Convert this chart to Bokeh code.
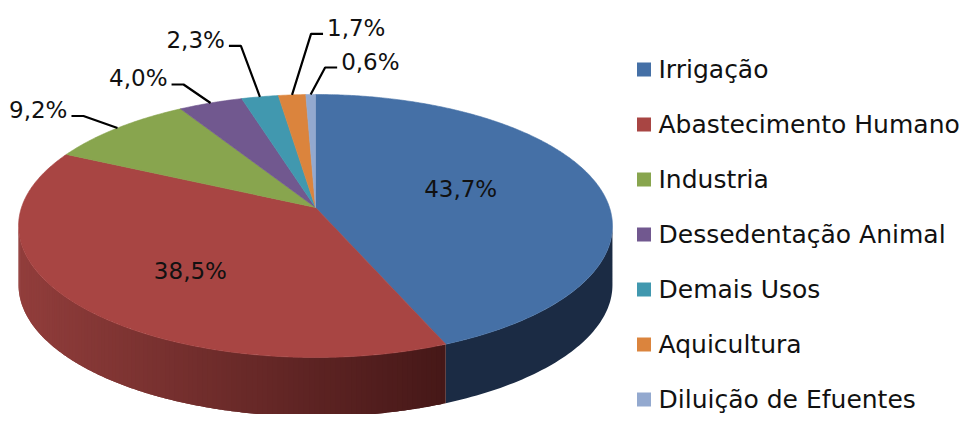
import numpy as np
from bokeh.plotting import figure
from bokeh.models import ColumnDataSource
from bokeh.embed import file_html
from bokeh.resources import INLINE
from bokeh.core.properties import value

# ---------------- data ----------------
categories = ["Irrigação", "Abastecimento Humano", "Industria",
              "Dessedentação Animal", "Demais Usos", "Aquicultura",
              "Diluição de Efuentes"]
shares = [43.7, 38.5, 9.2, 4.0, 2.3, 1.7, 0.6]
labels = ["43,7%", "38,5%", "9,2%", "4,0%", "2,3%", "1,7%", "0,6%"]

# ---------------- styles / layout ----------------
top_colors = ["#4570A6", "#A84543", "#88A54E", "#71588F", "#4198AF", "#DB843D", "#93A9CF"]
blue_side = "#1B2B44"
red_side_light = np.array([146, 62, 60])
red_side_dark = np.array([70, 24, 24])

CX, CY = 315.0, 207.0        # projected centre of the pie (page px)
KX, KY = 294.0, 128.9        # horizontal / vertical radius factors
PERSP = 0.1406               # perspective factor
DEPTH = 59.0                 # thickness of the pie

LABEL_FONT = value("DejaVu Sans")
LEGEND_FONT = value("DejaVu Sans")


def proj(phi_deg, r=1.0):
    ph = np.radians(phi_deg)
    X = r * np.sin(ph)
    Y = r * np.cos(ph)
    d = 1.0 + PERSP * Y
    return CX + KX * X / d, CY - KY * Y / d


p = figure(width=959, height=414, x_range=(0, 959), y_range=(414, 0),
           output_backend="svg", toolbar_location=None,
           x_axis_type=None, y_axis_type=None, min_border=0,
           outline_line_color=None, background_fill_color="white",
           border_fill_color="white")
p.grid.visible = False

total = float(sum(shares))
bounds = np.concatenate([[0.0], np.cumsum(shares)]) / total * 360.0

# visible side range (silhouette extremes)
phi_vis0 = np.degrees(np.arccos(-PERSP))
phi_vis1 = 360.0 - phi_vis0
x_left, _ = proj(phi_vis1)

# ---------------- side walls ----------------
side_xs, side_ys, side_cols = [], [], []
for i in range(len(shares)):
    a, b = max(bounds[i], phi_vis0), min(bounds[i + 1], phi_vis1)
    if b <= a:
        continue
    if i == 0:
        ph = np.linspace(a, b, 60)
        tx, ty = proj(ph)
        side_xs.append(list(tx) + list(tx[::-1]))
        side_ys.append(list(ty) + list((ty + DEPTH)[::-1]))
        side_cols.append(blue_side)
    else:
        x_right, _ = proj(a)
        edges = np.linspace(a, b, 120)
        n = len(edges) - 1
        for j in range(n):
            # each strip overlaps the next one so no seams are visible
            hi = edges[min(j + 2, n)]
            ph = np.linspace(edges[j], hi, 5)
            tx, ty = proj(ph)
            cx_mid, _ = proj((edges[j] + edges[j + 1]) / 2)
            t = (cx_mid - x_left) / (x_right - x_left)
            t = min(max(t, 0.0), 1.0)
            c = (red_side_light * (1 - t) + red_side_dark * t).astype(int)
            side_xs.append(list(tx) + list(tx[::-1]))
            side_ys.append(list(ty) + list((ty + DEPTH)[::-1]))
            side_cols.append("#%02x%02x%02x" % tuple(c))

p.patches(xs="xs", ys="ys", fill_color="c", line_color=None,
          source=ColumnDataSource(dict(xs=side_xs, ys=side_ys, c=side_cols)))

# ---------------- top faces ----------------
top_xs, top_ys = [], []
for i in range(len(shares)):
    ph = np.linspace(bounds[i], bounds[i + 1], max(4, int((bounds[i + 1] - bounds[i]) * 2)))
    tx, ty = proj(ph)
    top_xs.append([CX] + list(tx))
    top_ys.append([CY] + list(ty))
p.patches(xs="xs", ys="ys", fill_color="c", line_color="c", line_width=0.6,
          source=ColumnDataSource(dict(xs=top_xs, ys=top_ys, c=top_colors)))

# ---------------- labels ----------------
mids = (bounds[:-1] + bounds[1:]) / 2.0

# inside labels: (radius fraction, dx, dy)
inside = {0: (0.5, 3, -6), 1: (0.6, 11, 7)}
for i, (r, dx, dy) in inside.items():
    lx, ly = proj(mids[i], r)
    p.text(x=[lx + dx], y=[ly + dy], text=[labels[i]], text_font=LABEL_FONT,
           text_font_size="23px", text_color="#111111",
           text_align="center", text_baseline="middle")

# outside labels: elbow offset from the rim point, direction of horizontal tail
outside = {2: (-34, -12, -1), 3: (-27, -18.5, -1), 4: (-19, -51, -1),
           5: (19, -61, 1), 6: (14.5, -27, 1)}
for i, (ex, ey, side) in outside.items():
    rx, ry = proj(mids[i])
    elx, ely = rx + ex, ry + ey
    endx = elx + side * 12
    p.line(x=[rx, elx, endx], y=[ry, ely, ely], line_color="black", line_width=2.2)
    p.text(x=[endx + side * 4], y=[ely - 6], text=[labels[i]], text_font=LABEL_FONT,
           text_font_size="23px", text_color="#111111",
           text_align="left" if side > 0 else "right", text_baseline="middle")

# ---------------- legend ----------------
LEG_X, LEG_Y0, LEG_DY = 643.5, 69.0, 55.0
for i, cat in enumerate(categories):
    yy = LEG_Y0 + i * LEG_DY
    p.rect(x=[LEG_X], y=[yy], width=14, height=14, fill_color=top_colors[i],
           line_color=None)
    p.text(x=[658], y=[yy], text=[cat], text_font=LEGEND_FONT,
           text_font_size="25px", text_color="#111111",
           text_align="left", text_baseline="middle")

open("out.html", "w").write(file_html(p, INLINE))
